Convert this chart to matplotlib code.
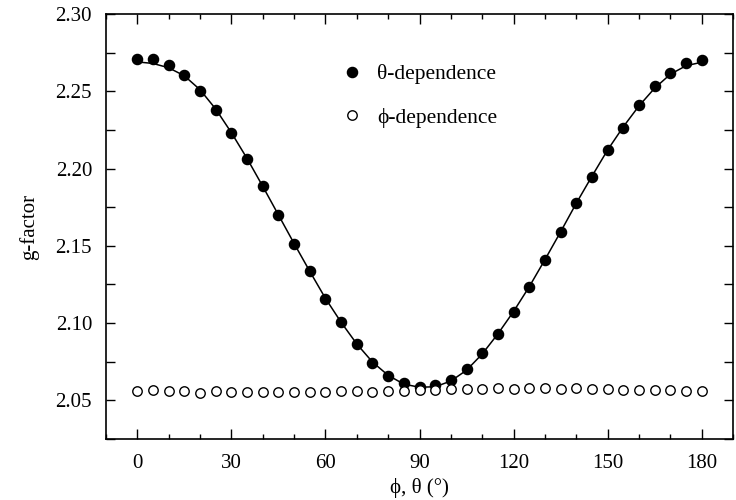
import numpy as np
import matplotlib.pyplot as plt
from matplotlib.ticker import MultipleLocator

plt.rcParams['font.family'] = ['Liberation Serif', 'DejaVu Serif']

# angles (deg)
angle = np.arange(0, 181, 5)

# theta-dependence, measured g-factor
g_theta = [2.2710, 2.2709, 2.2668, 2.2603, 2.2502, 2.2379, 2.2228, 2.2064,
           2.1887, 2.1700, 2.1512, 2.1335, 2.1154, 2.1005, 2.0863, 2.0742,
           2.0660, 2.0611, 2.0589, 2.0598, 2.0634, 2.0701, 2.0805, 2.0930,
           2.1074, 2.1232, 2.1410, 2.1591, 2.1775, 2.1947, 2.2120, 2.2264,
           2.2409, 2.2534, 2.2620, 2.2685, 2.2702]

# fitted curve through the theta data
g_fit = [2.2690, 2.2680, 2.2652, 2.2600, 2.2510, 2.2385, 2.2232, 2.2065,
         2.1885, 2.1700, 2.1515, 2.1335, 2.1160, 2.1005, 2.0865, 2.0748,
         2.0662, 2.0605, 2.0585, 2.0588, 2.0625, 2.0695, 2.0800, 2.0930,
         2.1075, 2.1235, 2.1410, 2.1590, 2.1775, 2.1950, 2.2120, 2.2270,
         2.2405, 2.2520, 2.2610, 2.2665, 2.2688]

# phi-dependence, measured g-factor
g_phi = [2.0559, 2.0567, 2.0563, 2.0559, 2.0550, 2.0561, 2.0554, 2.0557,
         2.0557, 2.0554, 2.0557, 2.0552, 2.0554, 2.0561, 2.0561, 2.0557,
         2.0563, 2.0563, 2.0567, 2.0567, 2.0576, 2.0572, 2.0572, 2.0578,
         2.0572, 2.0580, 2.0578, 2.0572, 2.0578, 2.0576, 2.0572, 2.0567,
         2.0567, 2.0567, 2.0565, 2.0561, 2.0559]

fig = plt.figure(figsize=(7.36, 5.0), dpi=100)
ax = fig.add_axes([106/736, 1 - 439/500, (733 - 106)/736, (439 - 14)/500])

ax.plot(angle, g_fit, color='black', lw=1.1, zorder=2)
ax.plot(angle, g_theta, 'o', color='black', ms=7.3, zorder=3,
        label='\u03b8-dependence')
ax.plot(angle, g_phi, 'o', mfc='white', mec='black', mew=1.0, ms=6.8,
        zorder=3, label='\u03d5-dependence')

ax.set_xlim(-10, 190)
ax.set_ylim(2.025, 2.30)
ax.xaxis.set_major_locator(MultipleLocator(30))
ax.xaxis.set_minor_locator(MultipleLocator(10))
ax.yaxis.set_major_locator(MultipleLocator(0.05))
ax.yaxis.set_minor_locator(MultipleLocator(0.025))
ax.yaxis.set_major_formatter(plt.FormatStrFormatter('%.2f'))

ax.tick_params(which='both', direction='in', top=True, right=True,
               labelsize=15, width=1.0)
ax.tick_params(axis='x', which='major', length=7, pad=10.5)
ax.tick_params(axis='x', which='minor', length=3.5)
ax.tick_params(axis='y', which='both', length=6.5, pad=10)
for s in ax.spines.values():
    s.set_linewidth(1.2)

ax.set_xlabel('\u03d5, \u03b8 (\u00b0)', fontsize=15, labelpad=4)
ax.set_ylabel('g-factor', fontsize=15, labelpad=12)

ax.legend(loc='center left', bbox_to_anchor=(0.345, 0.807), frameon=False,
          fontsize=15.5, numpoints=1, handlelength=1.0, handletextpad=0.65,
          labelspacing=1.08)

fig.savefig('out.png', dpi=100)
